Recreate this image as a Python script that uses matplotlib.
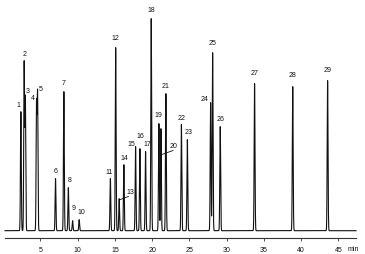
import numpy as np
import matplotlib
matplotlib.use("Agg")
import matplotlib.pyplot as plt

plt.rcParams['font.family'] = ['Liberation Sans', 'DejaVu Sans']

# Peak table (retention time in min, height in arbitrary units)
peak_ids = [str(i) for i in range(1, 30)]
peak_times = [2.38, 2.82, 2.98, 4.48, 4.62, 7.03, 8.15, 8.75, 9.32, 10.2,
              14.39, 15.1, 15.57, 16.2, 17.77, 18.35, 19.11, 19.87, 20.9, 21.17,
              21.84, 23.92, 24.72, 27.84, 28.11, 29.13, 33.74, 38.86, 43.54]
peak_heights = [119, 168, 133, 126, 136, 52, 139, 43, 10, 11,
                52, 183, 32, 66, 84, 82, 79, 212, 107, 102,
                137, 106, 91, 128, 178, 104, 147, 144, 150]
tick_values = [5, 10, 15, 20, 25, 30, 35, 40, 45]

# label offsets in pixels (dx, dy) relative to peak apex
label_offsets = {
    '1': (-2, 6.3), '2': (0.7, 8.5), '3': (2.5, 6.7), '4': (-3.4, 5.7), '5': (3, 5.7),
    '6': (0, 6.8), '7': (0, 8), '8': (1.2, 7.3), '9': (1, 11.7), '10': (1.7, 7.7),
    '11': (-1.2, 6.3), '12': (0, 9.3), '14': (0, 5.7), '15': (-4, 2), '16': (0.7, 11.8),
    '17': (1.6, 6.7), '18': (0, 8.3), '19': (0, 7.8), '21': (0, 7.5), '22': (0, 6.7),
    '23': (1.5, 7.7), '24': (-6.4, 3), '25': (0, 9), '26': (0.4, 7.4), '27': (0, 10),
    '28': (0, 11.7), '29': (0, 10),
}
# labels with leader lines: (line start, line end, label centre) in pixels from apex
leader_labels = {
    '13': ((0.7, -1.0), (9.4, 2.3), (11.4, 6.0)),
    '20': ((1.3, -25.7), (12.3, -21.7), (13.0, -17.7)),
}

W, H = 365, 254
fig = plt.figure(figsize=(W / 100, H / 100), dpi=100)
left_px, right_px = 5, 356
base_px = 230.7
ax = fig.add_axes([left_px / W, (H - base_px) / H, (right_px - left_px) / W, base_px / H])
ax.set_xlim(0.25, 47.35)
ax.set_ylim(0, base_px)

t = np.linspace(0.25, 47.35, 30000)
sig = np.zeros_like(t)
sigma = 0.055
for tp, hp in zip(peak_times, peak_heights):
    sig += hp * np.exp(-0.5 * ((t - tp) / sigma) ** 2)
ax.plot(t, sig, color='#111111', lw=0.8, clip_on=False)

pt = 0.72  # points per pixel
fs = 5.0
for pid, tp, hp in zip(peak_ids, peak_times, peak_heights):
    if pid in label_offsets:
        dx, dy = label_offsets[pid]
        ax.annotate(pid, xy=(tp, hp), xytext=(dx * pt, dy * pt), textcoords='offset points',
                    ha='center', va='center', fontsize=fs, color='#111111')
    else:
        (sx, sy), (ex, ey), (lx, ly) = leader_labels[pid]
        x0, y0 = ax.transData.transform((tp, hp))
        ax.annotate('', xy=(x0 + sx, y0 + sy), xycoords='figure pixels',
                    xytext=(x0 + ex, y0 + ey), textcoords='figure pixels',
                    arrowprops=dict(arrowstyle='-', lw=0.6, color='#111111',
                                    shrinkA=0, shrinkB=0))
        ax.annotate(pid, xy=(x0 + lx, y0 + ly), xycoords='figure pixels',
                    ha='center', va='center', fontsize=fs, color='#111111')

for s in ['top', 'right', 'left']:
    ax.spines[s].set_visible(False)
ax.spines['bottom'].set_position(('outward', 7.5 * pt))
ax.spines['bottom'].set_linewidth(0.8)
ax.spines['bottom'].set_color('#333333')
ax.set_yticks([])
ax.set_xticks(tick_values)
ax.set_xticklabels([str(v) for v in tick_values])
ax.tick_params(axis='x', direction='out', length=2, width=0.6, color='#333333',
               labelsize=fs, pad=4.5, labelcolor='#111111')
fig.text(353 / W, 1 - 249.5 / H, 'min', ha='center', va='center', fontsize=fs, color='#111111')

fig.savefig('out.png', dpi=100)
